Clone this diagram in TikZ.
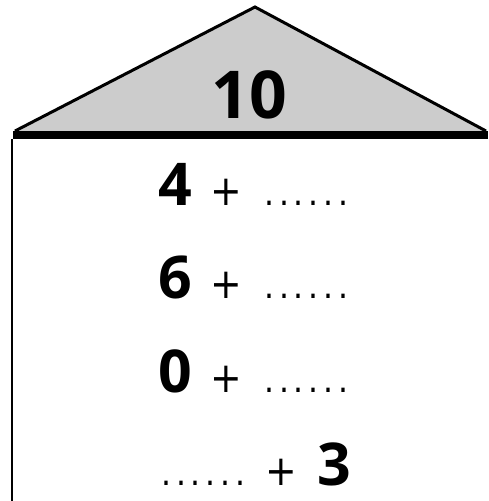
\documentclass[tikz,border=0pt]{standalone}
\usepackage{fontspec}
\setmainfont{DejaVu Sans Condensed}
\newfontfamily\digitfont{Open Sans}

\begin{document}
\begin{tikzpicture}[x=1pt,y=-1pt,
  num/.style={font=\digitfont\fontsize{59}{59}\selectfont\bfseries, inner sep=0pt, anchor=base west},
  plus/.style={font=\fontsize{42}{42}\selectfont, inner sep=0pt, anchor=base west},
  blank/.style={font=\fontsize{35}{35}\selectfont\addfontfeature{LetterSpace=14}, inner sep=0pt, anchor=base west}]

  % Page
  \useasboundingbox (0,0) rectangle (488,501);

  % Roof
  \fill[black!20] (15,131) -- (255,7) -- (486,131) -- cycle;
  \draw[line width=3pt, line join=miter] (15,131) -- (255,7) -- (486,131);
  \draw[line width=8pt] (13,135) -- (488,135);

  % Wall
  \draw[line width=1.5pt] (12,139) -- (12,501);

  % Number in the roof
  \node[font=\digitfont\fontsize{66}{66}\selectfont\bfseries, inner sep=0pt, anchor=base] (top) at (249,118) {10};

  % Rows
  \node[num] (a1) at (158,205) {4};
  \node[plus] (a2) at (210,205) {+};
  \node[blank] (a3) at (264,205) {......};

  \node[num] (b1) at (158,298) {6};
  \node[plus] (b2) at (210,298) {+};
  \node[blank] (b3) at (264,298) {......};

  \node[num] (c1) at (158,392) {0};
  \node[plus] (c2) at (210,392) {+};
  \node[blank] (c3) at (264,392) {......};

  \node[blank] (d1) at (161,485) {......};
  \node[plus] (d2) at (265,485) {+};
  \node[num] (d3) at (317,485) {3};

\end{tikzpicture}
\end{document}
